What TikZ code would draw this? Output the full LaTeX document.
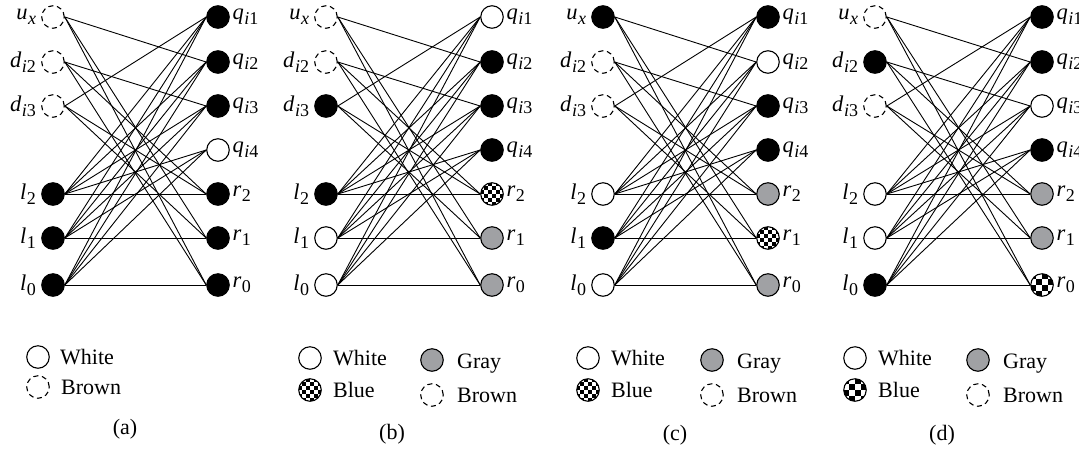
\documentclass[tikz,border=0pt]{standalone}
\usepackage{fontspec}
\setmainfont{Liberation Serif}
\definecolor{midgray}{RGB}{160,161,164}
\newcommand\sublab[2]{\textit{#1}\kern0.5pt\raisebox{-5pt}{\fontsize{18}{18}\selectfont #2}}
\tikzset{
 v/.style={circle, draw=black, line width=1.1pt, minimum size=22.5pt, inner sep=0pt, label distance=2pt},
 blk/.style={v, fill=black},
 wht/.style={v, fill=white},
 brn/.style={v, fill=white, dash pattern=on 5pt off 3.6pt},
 gry/.style={v, fill=midgray},
 chk/.style={v, fill=white, path picture={
   \foreach \a in {-6,-4,...,4}{\foreach \b in {-6,-4,...,4}{
     \fill[black] ([shift={(\a*#1,\b*#1)}]path picture bounding box.center) rectangle ++(#1,#1);
     \fill[black] ([shift={(\a*#1+#1,\b*#1+#1)}]path picture bounding box.center) rectangle ++(#1,#1);}}}},
 lbl/.style={font=\fontsize{22.5}{26}\selectfont, inner sep=1pt},
 lbll/.style={lbl, xshift=-4pt},
 lblr/.style={lbl, xshift=1.5pt},
 txt/.style={font=\fontsize{22}{26}\selectfont, inner sep=0pt, anchor=base west},
 captxt/.style={font=\fontsize{22}{26}\selectfont, inner sep=0pt, anchor=base},
 edge/.style={line width=0.9pt},
}
\newcommand\drawpanel[3]{%
 \node[sux,label={[lbll]left:{\sublab{u}{\textit{x}}}}] (#1ux) at (#2,17) {};
 \node[sd2,label={[lbll]left:{\sublab{d}{\textit{i}2}}}] (#1d2) at (#2,62) {};
 \node[sd3,label={[lbll]left:{\sublab{d}{\textit{i}3}}}] (#1d3) at (#2,106) {};
 \node[sl2,label={[lbll]left:{\sublab{l}{2}}}] (#1l2) at (#2,194) {};
 \node[sl1,label={[lbll]left:{\sublab{l}{1}}}] (#1l1) at (#2,238) {};
 \node[sl0,label={[lbll]left:{\sublab{l}{0}}}] (#1l0) at (#2,285) {};
 \node[sq1,label={[lblr]right:{\sublab{q}{\textit{i}1}}}] (#1q1) at (#3,17) {};
 \node[sq2,label={[lblr]right:{\sublab{q}{\textit{i}2}}}] (#1q2) at (#3,62) {};
 \node[sq3,label={[lblr]right:{\sublab{q}{\textit{i}3}}}] (#1q3) at (#3,106) {};
 \node[sq4,label={[lblr]right:{\sublab{q}{\textit{i}4}}}] (#1q4) at (#3,150) {};
 \node[sr2,label={[lblr]right:{\sublab{r}{2}}}] (#1r2) at (#3,194) {};
 \node[sr1,label={[lblr]right:{\sublab{r}{1}}}] (#1r1) at (#3,238) {};
 \node[sr0,label={[lblr]right:{\sublab{r}{0}}}] (#1r0) at (#3,285) {};
 \draw[edge] (#1ux.east) -- (#1q2.west);
 \draw[edge] (#1d2.east) -- (#1q3.west);
 \draw[edge] (#1d3.east) -- (#1q1.west);
 \draw[edge] (#1ux.east) -- (#1r1.west);
 \draw[edge] (#1ux.east) -- (#1r0.west);
 \draw[edge] (#1d2.east) -- (#1r2.west);
 \draw[edge] (#1d2.east) -- (#1r0.west);
 \draw[edge] (#1d3.east) -- (#1r2.west);
 \draw[edge] (#1d3.east) -- (#1r1.west);
 \foreach \nd in {q1,q2,q3,q4,r2} \draw[edge] (#1l2.east) -- (#1\nd.west);
 \foreach \nd in {q1,q2,q3,q4,r1} \draw[edge] (#1l1.east) -- (#1\nd.west);
 \foreach \nd in {q1,q2,q3,q4,r0} \draw[edge] (#1l0.east) -- (#1\nd.west);
}
\newcommand\legendfour[4]{%
 \node[wht] (#1lw) at (#2,358) {};
 \node[txt] (#1lwt) at (#2+23,365) {White};
 \node[chk=#4] (#1lb) at (#2,390) {};
 \node[txt] (#1lbt) at (#2+23,397) {Blue};
 \node[gry] (#1lg) at (#3,360) {};
 \node[txt] (#1lgt) at (#3+25,368) {Gray};
 \node[brn] (#1ln) at (#3,395) {};
 \node[txt] (#1lnt) at (#3+25,402) {Brown};
}
\begin{document}
\begin{tikzpicture}[x=1pt,y=-1pt]
\useasboundingbox (0,0) rectangle (1079,451);
% (a)
\begin{scope}[sux/.style=brn, sd2/.style=brn, sd3/.style=brn, sl2/.style=blk, sl1/.style=blk, sl0/.style=blk,
  sq1/.style=blk, sq2/.style=blk, sq3/.style=blk, sq4/.style=wht, sr2/.style=blk, sr1/.style=blk, sr0/.style=blk]
\drawpanel{a}{53}{218}
\end{scope}
% (b)
\begin{scope}[sux/.style=brn, sd2/.style=brn, sd3/.style=blk, sl2/.style=blk, sl1/.style=wht, sl0/.style=wht,
  sq1/.style=wht, sq2/.style=blk, sq3/.style=blk, sq4/.style=blk, sr2/.style={chk=4}, sr1/.style=gry, sr0/.style=gry]
\drawpanel{b}{326}{492}
\end{scope}
% (c)
\begin{scope}[sux/.style=blk, sd2/.style=brn, sd3/.style=brn, sl2/.style=wht, sl1/.style=blk, sl0/.style=wht,
  sq1/.style=blk, sq2/.style=wht, sq3/.style=blk, sq4/.style=blk, sr2/.style=gry, sr1/.style={chk=4}, sr0/.style=gry]
\drawpanel{c}{603}{768}
\end{scope}
% (d)
\begin{scope}[sux/.style=brn, sd2/.style=blk, sd3/.style=brn, sl2/.style=wht, sl1/.style=wht, sl0/.style=blk,
  sq1/.style=blk, sq2/.style=blk, sq3/.style=wht, sq4/.style=blk, sr2/.style=gry, sr1/.style=gry, sr0/.style={chk=6}]
\drawpanel{d}{875}{1042}
\end{scope}
% legends
\node[wht] (alw) at (38,357) {};
\node[txt] (alwt) at (60,364) {White};
\node[brn] (aln) at (38,387) {};
\node[txt] (alnt) at (61,394) {Brown};
\node[captxt] (acap) at (125,434) {(a)};
\legendfour{b}{310}{432}{4}
\node[captxt] (bcap) at (392,439) {(b)};
\legendfour{c}{588}{712}{4}
\node[captxt] (ccap) at (675,440) {(c)};
\legendfour{d}{855}{978}{6}
\node[captxt] (dcap) at (942,440) {(d)};
\end{tikzpicture}
\end{document}
